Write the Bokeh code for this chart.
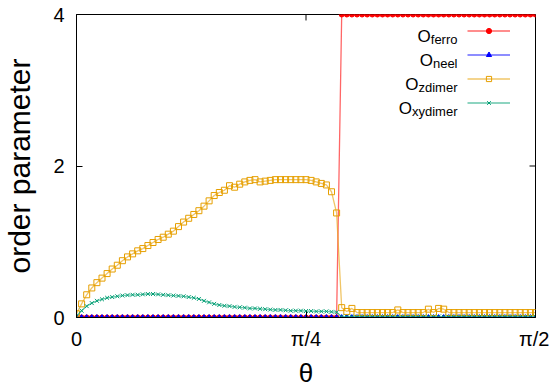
from bokeh.plotting import figure
from bokeh.models import Range1d, FixedTicker, Legend, LegendItem, Label
from bokeh.embed import file_html
from bokeh.resources import INLINE

# ---------------- data (theta in degrees, 0 .. 90 = 0 .. pi/2) ----------------
theta_deg = list(range(91))

o_ferro = [0.0] * 52 + [4.0] * 39

o_neel = [0.0] * 91

o_zdimer = [
    0.05, 0.18, 0.30, 0.39, 0.46, 0.52, 0.58, 0.64, 0.69, 0.75,
    0.80, 0.84, 0.88, 0.91, 0.95, 0.99, 1.03, 1.06, 1.10, 1.14,
    1.20, 1.26, 1.31, 1.36, 1.41, 1.47, 1.54, 1.61, 1.65, 1.68,
    1.74, 1.72, 1.76, 1.79, 1.81, 1.82, 1.79, 1.80, 1.81, 1.82,
    1.82, 1.82, 1.82, 1.82, 1.82, 1.82, 1.81, 1.79, 1.77, 1.75,
    1.66, 1.38, 0.13, 0.08, 0.12, 0.065, 0.065, 0.065, 0.065, 0.065,
    0.065, 0.065, 0.065, 0.10, 0.065, 0.065, 0.065, 0.065, 0.065, 0.11,
    0.065, 0.12, 0.11, 0.065, 0.065, 0.065, 0.065, 0.065, 0.065, 0.065,
    0.065, 0.065, 0.065, 0.065, 0.065, 0.065, 0.065, 0.065, 0.065, 0.065,
    0.065,
]

o_xydimer = [
    0.02, 0.09, 0.15, 0.19, 0.22, 0.24, 0.26, 0.27, 0.28, 0.29,
    0.295, 0.30, 0.30, 0.305, 0.31, 0.31, 0.305, 0.30, 0.295, 0.29,
    0.285, 0.28, 0.27, 0.26, 0.245, 0.22, 0.20, 0.18, 0.165, 0.155,
    0.15, 0.14, 0.135, 0.13, 0.12, 0.12, 0.115, 0.11, 0.105, 0.10,
    0.10, 0.095, 0.09, 0.09, 0.09, 0.085, 0.085, 0.08, 0.08, 0.08,
    0.075, 0.07,
] + [0.01] * 39

x_ticks = [0, 45, 90]
x_tick_labels = {0: "0", 45: "π/4", 90: "π/2"}
y_ticks = [0, 2, 4]

series_names = ["ferro", "neel", "zdimer", "xydimer"]
series_values = [o_ferro, o_neel, o_zdimer, o_xydimer]
series_colors = ["#ff0000", "#0000ff", "#e69f00", "#009e73"]
series_markers = ["circle", "triangle", "square", "x"]
series_sizes = [5, 5, 6, 5.5]
series_filled = [True, True, False, False]

FONT = "Liberation Sans"
X0, X1, Y0, Y1 = 0, 90, 0, 4
FRAME_W, FRAME_H = 460, 304
TICK_LEN = 6

# ---------------- figure ----------------
p = figure(width=549, height=390,
           x_range=Range1d(X0, X1), y_range=Range1d(Y0, Y1),
           output_backend="svg", toolbar_location=None,
           min_border_left=75, min_border_right=14,
           min_border_top=14, min_border_bottom=72)
p.xgrid.visible = False
p.ygrid.visible = False
p.outline_line_color = "black"
p.outline_line_width = 1
p.outline_line_alpha = 1.0
p.background_fill_color = "white"
p.border_fill_color = "white"

xa = p.xaxis[0]
xa.ticker = FixedTicker(ticks=x_ticks)
xa.major_label_overrides = x_tick_labels
xa.major_label_text_font = FONT
xa.major_label_text_font_size = "20px"
xa.major_label_text_color = "black"
xa.major_label_standoff = 10
xa.major_tick_in = TICK_LEN
xa.major_tick_out = 0
xa.minor_tick_in = 0
xa.minor_tick_out = 0
xa.axis_line_color = "black"
xa.major_tick_line_color = "black"
xa.axis_label = "θ"
xa.axis_label_text_font = FONT
xa.axis_label_text_font_size = "26px"
xa.axis_label_text_font_style = "normal"
xa.axis_label_text_color = "black"
xa.axis_label_standoff = 5

ya = p.yaxis[0]
ya.ticker = FixedTicker(ticks=y_ticks)
ya.major_label_text_font = FONT
ya.major_label_text_font_size = "20px"
ya.major_label_text_color = "black"
ya.major_label_standoff = 12
ya.major_tick_in = TICK_LEN
ya.major_tick_out = 0
ya.minor_tick_in = 0
ya.minor_tick_out = 0
ya.axis_line_color = "black"
ya.major_tick_line_color = "black"
ya.axis_label = "order parameter"
ya.axis_label_text_font = FONT
ya.axis_label_text_font_size = "30px"
ya.axis_label_text_font_style = "normal"
ya.axis_label_text_color = "black"
ya.axis_label_standoff = 14

# mirror ticks on the top and right frame edges, derived from the tick lists
dy = TICK_LEN * (Y1 - Y0) / FRAME_H
dx = TICK_LEN * (X1 - X0) / FRAME_W
p.segment(x0=x_ticks, y0=[Y1] * len(x_ticks), x1=x_ticks, y1=[Y1 - dy] * len(x_ticks),
          line_color="black", line_width=1)
p.segment(x0=[X1] * len(y_ticks), y0=y_ticks, x1=[X1 - dx] * len(y_ticks), y1=y_ticks,
          line_color="black", line_width=1)

# ---------------- series ----------------
items = []
for name, vals, col, mk, sz, filled in zip(series_names, series_values, series_colors,
                                            series_markers, series_sizes, series_filled):
    lr = p.line(theta_deg, vals, line_color=col, line_width=1.3, line_alpha=0.6)
    sr = p.scatter(theta_deg, vals, marker=mk, size=sz, line_color=col, line_width=1,
                   fill_color=col if filled else None)
    items.append(LegendItem(label=" ", renderers=[lr, sr]))

legend = Legend(items=items, location="top_right", margin=10, padding=0, spacing=11,
                glyph_width=43, glyph_height=13, label_width=15, label_height=13,
                label_standoff=0, label_text_font_size="10px",
                background_fill_alpha=0, border_line_alpha=0)
p.add_layout(legend)

# legend texts: "O" with subscript
char_w = {"f": 0.278, "e": 0.556, "r": 0.333, "o": 0.556, "n": 0.556, "l": 0.222,
          "z": 0.5, "d": 0.556, "i": 0.222, "m": 0.833, "x": 0.5, "y": 0.5}
sub_size = 13
for i, name in enumerate(series_names):
    row_c = 17 + 24 * i          # distance of row centre from frame top
    sub_right = 381
    sub_w = sum(char_w[c] for c in name) * sub_size
    p.add_layout(Label(x=sub_right - sub_w, y=FRAME_H - (row_c + 6),
                       x_units="screen", y_units="screen", text="O",
                       text_align="right", text_baseline="alphabetic",
                       text_font=FONT, text_font_size="17px", text_color="black"))
    p.add_layout(Label(x=sub_right, y=FRAME_H - (row_c + 9),
                       x_units="screen", y_units="screen", text=name,
                       text_align="right", text_baseline="alphabetic",
                       text_font=FONT, text_font_size="13px", text_color="black"))

open("out.html", "w").write(file_html(p, INLINE))
